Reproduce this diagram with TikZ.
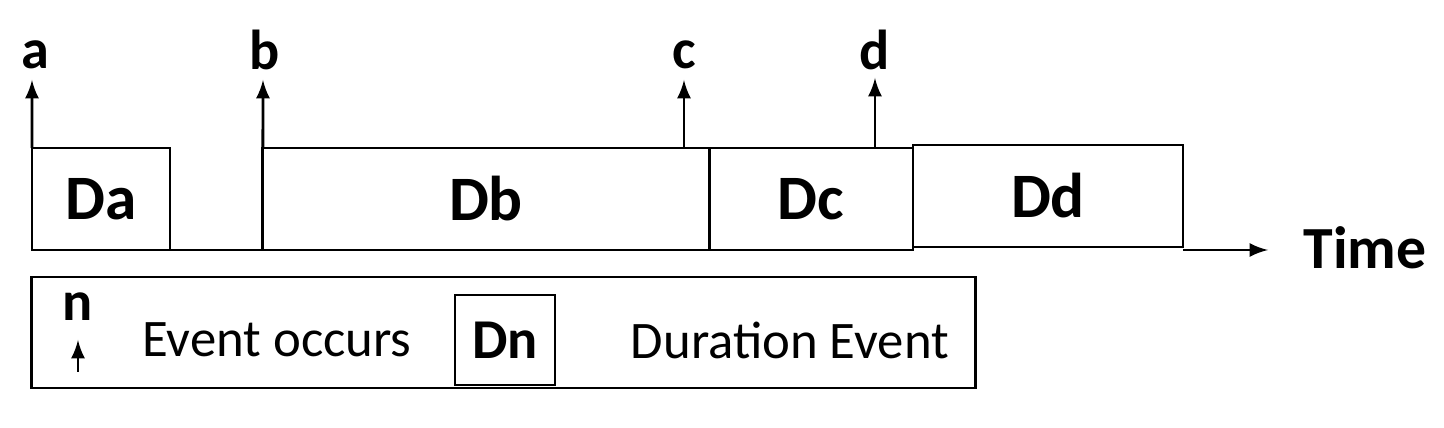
\documentclass[tikz,border=0pt]{standalone}
\usepackage{fontspec}
\setmainfont{Carlito}
\usetikzlibrary{positioning}
\tikzset{dur box/.style={draw,thick,outer sep=0pt,minimum height=1.02cm,inner sep=0pt,font=\fontsize{18}{22}\selectfont\bfseries},
ev label/.style={font=\fontsize{16}{19}\selectfont\bfseries},
ev arrow/.style={thick,-latex},
}
\begin{document}
\begin{tikzpicture}[x=0.01cm,y=-0.01cm]
	\useasboundingbox (0,0) rectangle (1444,428);
	\node[dur box,minimum width=1.38cm] (Da) at (101,199){Da};
	\node[dur box,minimum width=4.46cm] (Db) at (486,199){Db};
	\node[dur box,minimum width=2.04cm] (Dc) at (811,199){Dc};
	\node[dur box,minimum width=2.70cm] (Dd) at (1048,196){Dd};
	\coordinate (end) at (1268,250);
	\node[font=\fontsize{17}{20}\selectfont\bfseries] (time) at (1365,248){Time};
	\draw[thick,-latex] (Da.south east) -- (Db.south west) (Dd.south east |- end) -- (end);
	
	% events
	\coordinate (ta) at (32,80);
	\coordinate (tb) at (263,80);
	\coordinate (tc) at (684,80);
	\coordinate (td) at (875,78);
	\node[ev label] (a) at (35,55){a};
	\node[ev label] (b) at (265,50){b};
	\node[ev label] (c) at (684,55){c};
	\node[ev label] (d) at (875,50){d};
	\draw[ev arrow] (Da.north west) -- (ta);
	\draw[ev arrow] (Db.north west) -- (tb);
	\draw[ev arrow] (Db.north west -| tc) -- (tc);
	\draw[ev arrow] (Dc.north west -| td) -- (td);
	
	% legend
	\node[draw,thick,outer sep=0pt,minimum width=9.43cm,minimum height=1.11cm] (legend) at (503.5,332.5){};
	\coordinate (n0) at (78,372);
	\coordinate (n1) at (78,340);
	\draw[ev arrow] (n0) -- (n1);
	\node[ev label] (n) at (78,307){n};
	\node[font=\fontsize{15}{18}\selectfont] (occ) at (277,340){Event occurs};
	\node[dur box,minimum width=1.00cm,minimum height=0.90cm,font=\fontsize{16}{19}\selectfont\bfseries] (Dn) at (505,340){Dn};
	\node[font=\fontsize{15}{18}\selectfont] (dur) at (790,340){Durat{}ion Event};
\end{tikzpicture}
\end{document}
